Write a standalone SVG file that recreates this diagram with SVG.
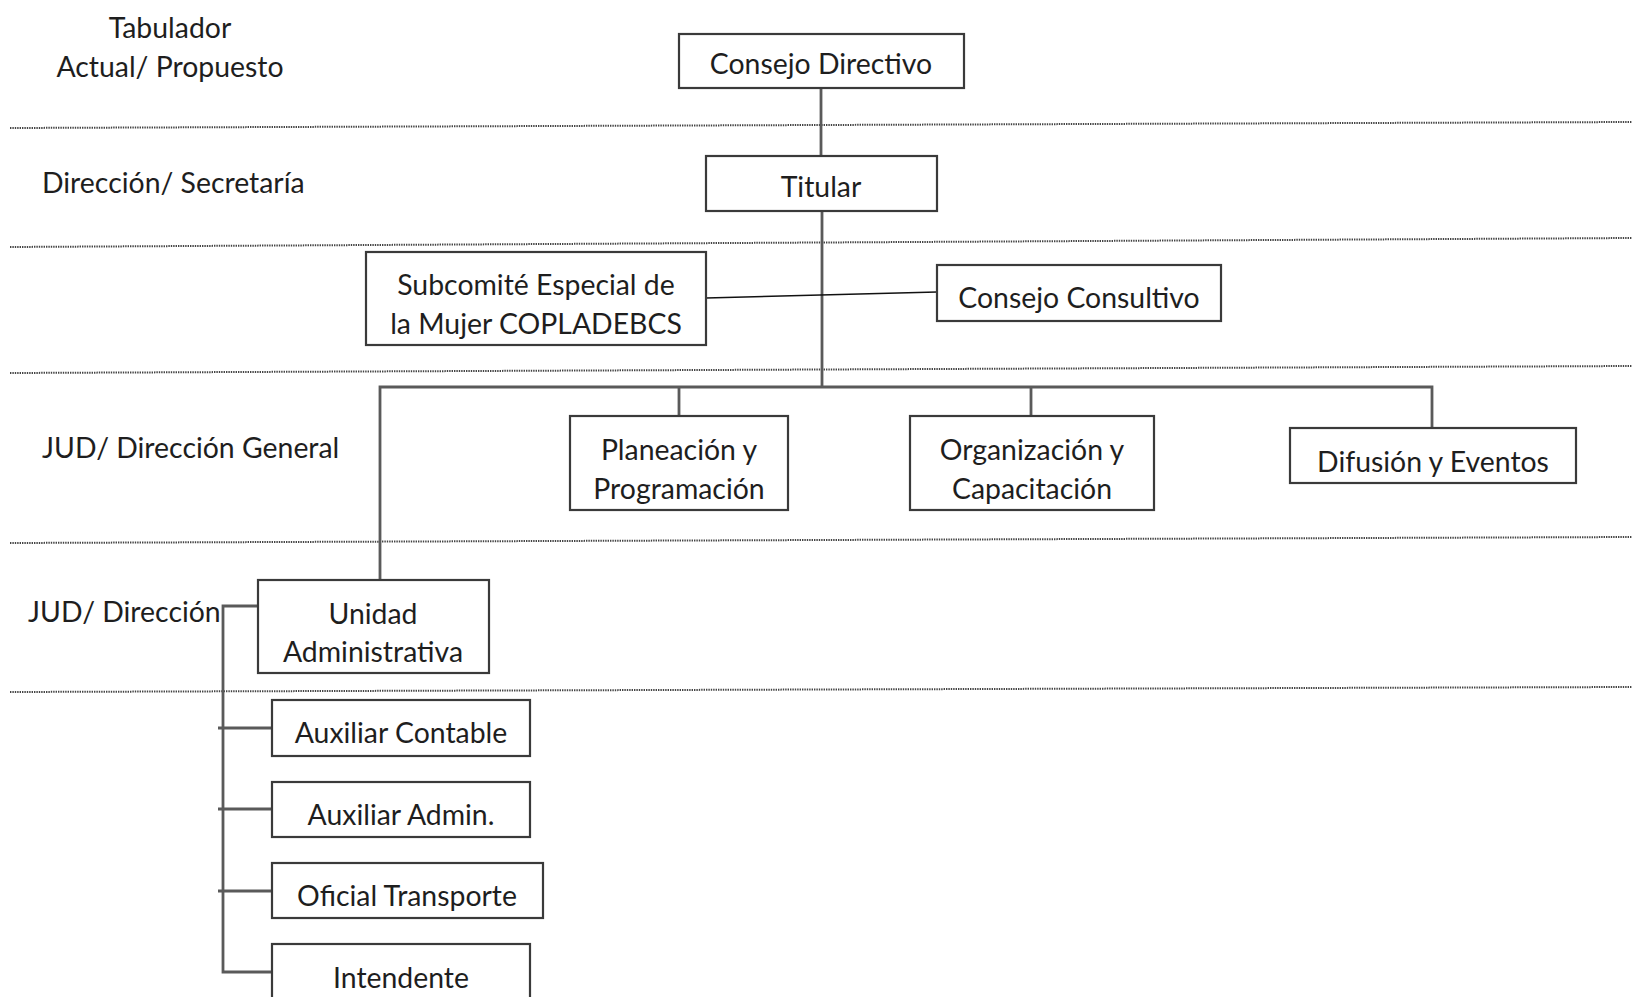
<svg xmlns="http://www.w3.org/2000/svg" width="1632" height="997" viewBox="0 0 1632 997">
<style>
.bg{fill:#ffffff}
.box{fill:#ffffff;stroke:#3a3a3a;stroke-width:2.2}
.t{font-family:Lato,"Open Sans","Liberation Sans",sans-serif;font-size:28.4px;fill:#1e1e1e;text-anchor:middle}
.lbl{font-family:Lato,"Open Sans","Liberation Sans",sans-serif;font-size:28.4px;fill:#1e1e1e}
.dot{stroke:#444;stroke-width:2;stroke-dasharray:1.4 1;fill:none}
.conn{stroke:#5a5a5a;stroke-width:2.8;fill:none}
.thin{stroke:#111;stroke-width:1.6;fill:none}
</style>
<rect class="bg" x="0" y="0" width="1632" height="997"/>
<g id="levels">
<line class="dot" x1="10" y1="128" x2="1632" y2="122"/>
<line class="dot" x1="10" y1="247" x2="1632" y2="238"/>
<line class="dot" x1="10" y1="373" x2="1632" y2="366"/>
<line class="dot" x1="10" y1="543" x2="1632" y2="537"/>
<line class="dot" x1="10" y1="692" x2="1632" y2="687"/>
<text class="t" x="170" y="38">Tabulador</text>
<text class="t" x="170" y="77">Actual/ Propuesto</text>
<text class="lbl" x="42" y="193">Dirección/ Secretaría</text>
<text class="lbl" x="42" y="458">JUD/ Dirección General</text>
<text class="lbl" x="28" y="622">JUD/ Dirección</text>
</g>
<g id="connectors">
<line class="conn" x1="821" y1="88" x2="821" y2="156"/>
<line class="conn" x1="822" y1="211" x2="822" y2="388"/>
<line class="thin" x1="706" y1="298" x2="937" y2="292"/>
<polyline class="conn" points="380,580 380,387 1432,387 1432,428"/>
<line class="conn" x1="679" y1="387" x2="679" y2="416"/>
<line class="conn" x1="1031" y1="387" x2="1031" y2="416"/>
<polyline class="conn" points="258,606 223,606 223,972 272,972"/>
<line class="conn" x1="218" y1="728" x2="272" y2="728"/>
<line class="conn" x1="218" y1="809" x2="272" y2="809"/>
<line class="conn" x1="218" y1="891" x2="272" y2="891"/>
</g>
<g id="consejo-directivo">
<rect class="box" x="679" y="34" width="285" height="54"/>
<text class="t" x="821" y="74">Consejo Directivo</text>
</g>
<g id="titular">
<rect class="box" x="706" y="156" width="231" height="55"/>
<text class="t" x="821" y="197">Titular</text>
</g>
<g id="subcomite">
<rect class="box" x="366" y="252" width="340" height="93"/>
<text class="t" x="536" y="295">Subcomité Especial de</text>
<text class="t" x="536" y="334">la Mujer COPLADEBCS</text>
</g>
<g id="consejo-consultivo">
<rect class="box" x="937" y="265" width="284" height="56"/>
<text class="t" x="1079" y="308">Consejo Consultivo</text>
</g>
<g id="planeacion">
<rect class="box" x="570" y="416" width="218" height="94"/>
<text class="t" x="679" y="460">Planeación y</text>
<text class="t" x="679" y="499">Programación</text>
</g>
<g id="organizacion">
<rect class="box" x="910" y="416" width="244" height="94"/>
<text class="t" x="1032" y="460">Organización y</text>
<text class="t" x="1032" y="499">Capacitación</text>
</g>
<g id="difusion">
<rect class="box" x="1290" y="428" width="286" height="55"/>
<text class="t" x="1433" y="472">Difusión y Eventos</text>
</g>
<g id="unidad-administrativa">
<rect class="box" x="258" y="580" width="231" height="93"/>
<text class="t" x="373" y="624">Unidad</text>
<text class="t" x="373" y="662">Administrativa</text>
</g>
<g id="auxiliar-contable">
<rect class="box" x="272" y="700" width="258" height="56"/>
<text class="t" x="401" y="743">Auxiliar Contable</text>
</g>
<g id="auxiliar-admin">
<rect class="box" x="272" y="782" width="258" height="55"/>
<text class="t" x="401" y="825">Auxiliar Admin.</text>
</g>
<g id="oficial-transporte">
<rect class="box" x="272" y="863" width="271" height="55"/>
<text class="t" x="407" y="906">Oficial Transporte</text>
</g>
<g id="intendente">
<rect class="box" x="272" y="944" width="258" height="60"/>
<text class="t" x="401" y="988">Intendente</text>
</g>
</svg>
